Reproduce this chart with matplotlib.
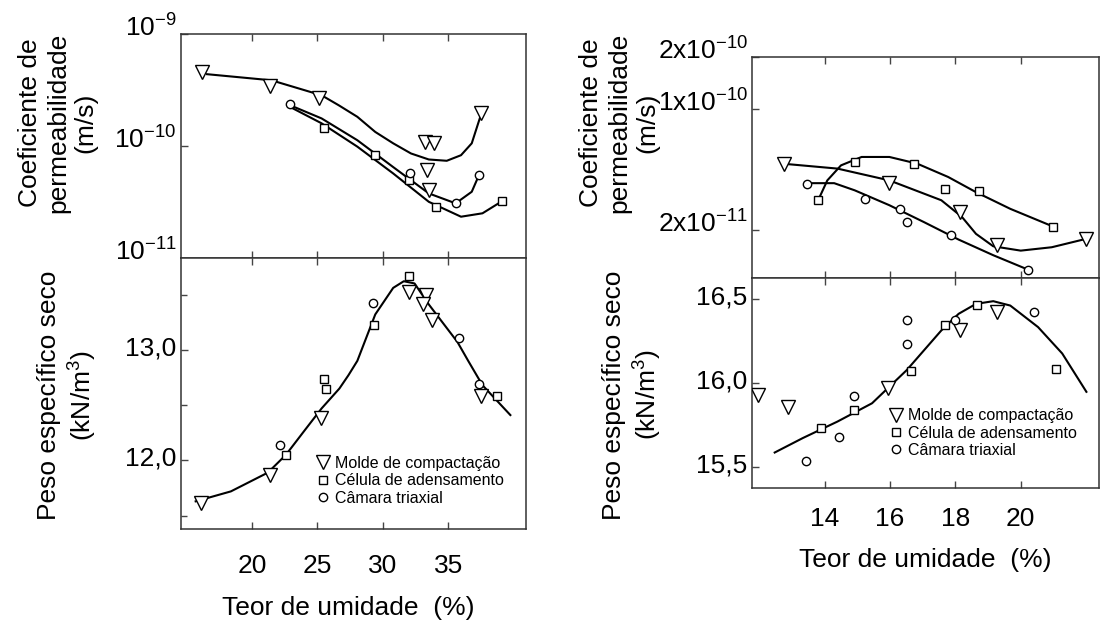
import numpy as np
import matplotlib
matplotlib.use("Agg")
import matplotlib.pyplot as plt
from matplotlib.ticker import FixedLocator, FixedFormatter, FuncFormatter, NullLocator
from matplotlib.transforms import ScaledTranslation

plt.rcParams['font.family'] = ['Liberation Sans', 'DejaVu Sans']
plt.rcParams['mathtext.fontset'] = 'custom'
plt.rcParams['mathtext.rm'] = 'Liberation Sans'
plt.rcParams['mathtext.it'] = 'Liberation Sans:italic'
plt.rcParams['mathtext.bf'] = 'Liberation Sans:bold'

# ---- left figure: permeability (m/s) ----
a_k_tri_x = [16.17, 21.42, 25.14, 33.25, 33.93, 33.39, 33.52, 37.49]
a_k_tri = [4.6e-10, 3.44e-10, 2.70e-10, 1.09e-10, 1.06e-10, 6.1e-11, 4.05e-11, 1.96e-10]
a_k_sq_x = [25.55, 29.41, 32.02, 34.07, 39.13]
a_k_sq = [1.44e-10, 8.3e-11, 4.97e-11, 2.84e-11, 3.23e-11]
a_k_ci_x = [22.93, 32.1, 35.57, 37.35]
a_k_ci = [2.37e-10, 5.7e-11, 3.12e-11, 5.5e-11]
a_fit_tri_x = [16.58, 21.5, 25.33, 26.64, 28.06, 29.43, 30.8, 32.16, 33.52, 34.89, 35.98, 36.8, 37.49]
a_fit_tri = [4.40e-10, 3.88e-10, 2.85e-10, 2.32e-10, 1.83e-10, 1.34e-10, 1.06e-10, 8.6e-11,
             7.6e-11, 7.4e-11, 8.3e-11, 1.06e-10, 1.89e-10]
a_fit_ci_x = [22.93, 25.33, 28.06, 30.8, 33.52, 35.57, 36.8, 37.35]
a_fit_ci = [2.32e-10, 1.77e-10, 1.13e-10, 6.5e-11, 3.78e-11, 3.08e-11, 3.91e-11, 5.5e-11]
a_fit_sq_x = [22.93, 25.33, 28.06, 30.8, 33.52, 35.98, 37.62, 39.13]
a_fit_sq = [2.24e-10, 1.60e-10, 9.9e-11, 5.7e-11, 3.18e-11, 2.34e-11, 2.51e-11, 3.23e-11]

# ---- left figure: dry unit weight (kN/m3) ----
a_g_tri_x = [16.09, 21.42, 25.25, 31.97, 33.3, 33.1, 33.75, 37.49]
a_g_tri = [11.615, 11.87, 12.38, 13.52, 13.50, 13.41, 13.27, 12.58]
a_g_sq_x = [22.6, 25.55, 25.66, 29.34, 31.97, 38.71]
a_g_sq = [12.05, 12.74, 12.65, 13.22, 13.67, 12.58]
a_g_ci_x = [22.19, 29.29, 35.79, 37.35]
a_g_ci = [12.14, 13.42, 13.11, 12.69]
a_fit_g_x = [15.71, 18.4, 21.23, 22.6, 23.96, 25.33, 26.69, 27.38, 28.06, 29.43, 30.8,
             31.61, 32.43, 33.52, 35.71, 36.53, 37.62, 39.75]
a_fit_g = [11.63, 11.72, 11.89, 12.05, 12.26, 12.47, 12.65, 12.77, 12.9, 13.32, 13.56,
           13.62, 13.60, 13.41, 13.07, 12.9, 12.68, 12.41]

# ---- right figure: permeability ----
b_k_tri_x = [12.75, 15.96, 18.13, 19.28, 21.99]
b_k_tri = [4.83e-11, 3.72e-11, 2.53e-11, 1.62e-11, 1.77e-11]
b_k_sq_x = [13.81, 14.94, 16.74, 17.69, 18.71, 21.0]
b_k_sq = [2.99e-11, 4.93e-11, 4.83e-11, 3.46e-11, 3.35e-11, 2.08e-11]
b_k_ci_x = [13.46, 15.22, 16.32, 16.53, 17.86, 20.23]
b_k_ci = [3.70e-11, 3.03e-11, 2.64e-11, 2.21e-11, 1.85e-11, 1.16e-11]
b_fit_tri_x = [12.91, 14.39, 15.98, 17.57, 18.2, 18.63, 19.16, 20.0, 20.95, 22.12]
b_fit_tri = [4.79e-11, 4.52e-11, 3.86e-11, 2.96e-11, 2.37e-11, 1.89e-11, 1.60e-11, 1.51e-11, 1.58e-11, 1.79e-11]
b_fit_sq_x = [13.81, 14.08, 14.5, 15.13, 15.98, 16.83, 17.78, 18.63, 19.68, 21.0]
b_fit_sq = [2.99e-11, 3.86e-11, 4.72e-11, 5.28e-11, 5.28e-11, 4.83e-11, 4.04e-11, 3.30e-11, 2.64e-11, 2.08e-11]
b_fit_ci_x = [13.55, 14.29, 14.92, 15.98, 17.04, 18.1, 19.16, 20.23]
b_fit_ci = [3.72e-11, 3.72e-11, 3.38e-11, 2.77e-11, 2.21e-11, 1.75e-11, 1.42e-11, 1.17e-11]

# ---- right figure: dry unit weight ----
b_g_tri_x = [11.96, 12.89, 15.93, 18.15, 19.28]
b_g_tri = [15.928, 15.855, 15.967, 16.312, 16.421]
b_g_sq_x = [13.89, 14.9, 16.63, 17.67, 18.66, 21.08]
b_g_sq = [15.731, 15.839, 16.072, 16.346, 16.466, 16.082]
b_g_ci_x = [13.44, 14.44, 14.9, 16.51, 16.51, 17.99, 20.4]
b_g_ci = [15.533, 15.678, 15.924, 16.234, 16.372, 16.372, 16.421]
b_fit_g_x = [12.47, 13.33, 14.39, 15.45, 16.51, 17.04, 17.57, 18.1, 18.63, 19.16,
             19.68, 20.53, 21.27, 22.01]
b_fit_g = [15.586, 15.672, 15.770, 15.879, 16.076, 16.194, 16.312, 16.411, 16.470,
           16.486, 16.460, 16.332, 16.175, 15.947]

labels = ["Molde de compactação", "Célula de adensamento", "Câmara triaxial"]
ylab_k = "Coeficiente de\npermeabilidade\n(m/s)"
ylab_g = "Peso específico seco\n(kN/m$^3$)"
xlab = "Teor de umidade  (%)"

FS = 19
mk = dict(mfc='white', mec='black', mew=1.0, ls='none', zorder=3)
tri = dict(marker='v', ms=10, **mk)
sq = dict(marker='s', ms=6, **mk)
ci = dict(marker='o', ms=6, **mk)
line = dict(color='black', lw=1.5, zorder=2)

fig = plt.figure(figsize=(11.04, 6.25), dpi=100)

axA1 = fig.add_axes([0.1643, 0.5872, 0.3121, 0.3579])
axA2 = fig.add_axes([0.1643, 0.1536, 0.3121, 0.4336], sharex=axA1)
axB1 = fig.add_axes([0.6816, 0.5555, 0.3137, 0.3528])
axB2 = fig.add_axes([0.6816, 0.2192, 0.3137, 0.3363], sharex=axB1)


def style(ax):
    for s in ax.spines.values():
        s.set_linewidth(1.1)
        s.set_color('#333333')
    ax.tick_params(direction='in', length=5, width=1, color='#444444',
                   top=True, right=False, labelsize=FS)


def shift_ylabels(ax, dy):
    off = ScaledTranslation(0, dy / 72, fig.dpi_scale_trans)
    for lab in ax.get_yticklabels():
        lab.set_transform(lab.get_transform() + off)


comma = FuncFormatter(lambda v, p: f"{v:.1f}".replace('.', ','))

# left permeability
ax = axA1
ax.plot(a_fit_tri_x, a_fit_tri, **line)
ax.plot(a_fit_ci_x, a_fit_ci, **line)
ax.plot(a_fit_sq_x, a_fit_sq, **line)
ax.plot(a_k_tri_x, a_k_tri, **tri)
ax.plot(a_k_sq_x, a_k_sq, **sq)
ax.plot(a_k_ci_x, a_k_ci, **ci)
ax.set_yscale('log')
ax.set_ylim(1e-11, 1e-9)
ax.yaxis.set_major_locator(FixedLocator([1e-11, 1e-10, 1e-9]))
ax.yaxis.set_major_formatter(FixedFormatter([r'$\mathregular{10^{-11}}$',
                                             r'$\mathregular{10^{-10}}$',
                                             r'$\mathregular{10^{-9}}$']))
ax.yaxis.set_minor_locator(NullLocator())
style(ax)
ax.tick_params(axis='x', labelbottom=False)
ax.text(-0.358, 0.603, ylab_k, transform=ax.transAxes, rotation=90, ha='center',
        va='center', multialignment='center', fontsize=FS)

# left unit weight
ax = axA2
ax.plot(a_fit_g_x, a_fit_g, **line)
ax.plot(a_g_tri_x, a_g_tri, label=labels[0], **tri)
ax.plot(a_g_sq_x, a_g_sq, label=labels[1], **sq)
ax.plot(a_g_ci_x, a_g_ci, label=labels[2], **ci)
ax.set_xlim(14.62, 40.94)
ax.set_xticks([20, 25, 30, 35])
ax.set_ylim(11.38, 13.83)
ax.set_yticks([12.0, 13.0])
ax.set_yticks([11.5, 12.5, 13.5], minor=True)
ax.yaxis.set_major_formatter(comma)
style(ax)
ax.tick_params(which='minor', direction='in', length=4, width=1, color='#444444')
ax.tick_params(axis='x', pad=18)
ax.text(-0.329, 0.494, ylab_g, transform=ax.transAxes, rotation=90, ha='center',
        va='center', multialignment='center', fontsize=FS)
ax.text(0.483, -0.29, xlab, transform=ax.transAxes, ha='center', va='center', fontsize=FS)
ax.legend(loc='upper left', bbox_to_anchor=(0.39, 0.27), frameon=False, fontsize=11.5,
          borderpad=0, borderaxespad=0, handlelength=0.9, handletextpad=0.3,
          labelspacing=0.15)

# right permeability
ax = axB1
ax.plot(b_fit_tri_x, b_fit_tri, **line)
ax.plot(b_fit_sq_x, b_fit_sq, **line)
ax.plot(b_fit_ci_x, b_fit_ci, **line)
ax.plot(b_k_tri_x, b_k_tri, **tri)
ax.plot(b_k_sq_x, b_k_sq, **sq)
ax.plot(b_k_ci_x, b_k_ci, **ci)
ax.set_yscale('log')
ax.set_ylim(1.05e-11, 2e-10)
ax.yaxis.set_major_locator(FixedLocator([2e-11, 1e-10, 2e-10]))
ax.yaxis.set_major_formatter(FixedFormatter([r'$\mathregular{2x10^{-11}}$',
                                             r'$\mathregular{1x10^{-10}}$',
                                             r'$\mathregular{2x10^{-10}}$']))
ax.yaxis.set_minor_locator(NullLocator())
style(ax)
ax.tick_params(axis='x', labelbottom=False)
ax.text(-0.385, 0.702, ylab_k, transform=ax.transAxes, rotation=90, ha='center',
        va='center', multialignment='center', fontsize=FS)

# right unit weight
ax = axB2
ax.plot(b_fit_g_x, b_fit_g, **line)
ax.plot(b_g_tri_x, b_g_tri, label=labels[0], **tri)
ax.plot(b_g_sq_x, b_g_sq, label=labels[1], **sq)
ax.plot(b_g_ci_x, b_g_ci, label=labels[2], **ci)
ax.set_xlim(11.79, 22.39)
ax.set_xticks([14, 16, 18, 20])
ax.set_ylim(15.375, 16.625)
ax.set_yticks([15.5, 16.0, 16.5])
ax.yaxis.set_major_formatter(comma)
style(ax)
ax.tick_params(axis='x', pad=14)
ax.text(-0.345, 0.442, ylab_g, transform=ax.transAxes, rotation=90, ha='center',
        va='center', multialignment='center', fontsize=FS)
ax.text(0.5, -0.3425, xlab, transform=ax.transAxes, ha='center', va='center', fontsize=FS)
ax.legend(loc='upper left', bbox_to_anchor=(0.395, 0.38), frameon=False, fontsize=11.5,
          borderpad=0, borderaxespad=0, handlelength=0.9, handletextpad=0.3,
          labelspacing=0.15)

shift_ylabels(axA1, 6)
shift_ylabels(axB1, 6)
shift_ylabels(axA2, 3)
shift_ylabels(axB2, 3)

fig.savefig("out.png", dpi=100, facecolor='white')
